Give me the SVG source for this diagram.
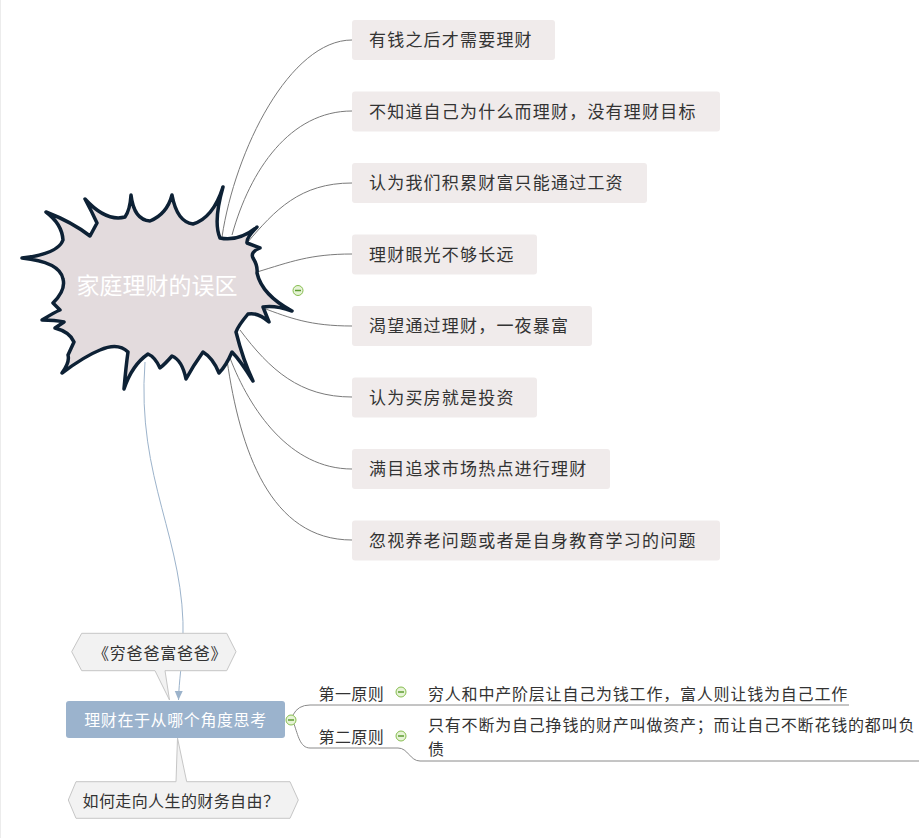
<svg xmlns="http://www.w3.org/2000/svg" width="919" height="838" viewBox="0 0 919 838">
<style>
text{font-family:"Noto Sans CJK SC","Noto Sans",sans-serif;font-size:16px;fill:#333}
.tp{fill:#f0ebeb}
.tt{font-size:17px;letter-spacing:1.2px}
.cn{fill:none;stroke:#7a7a7a;stroke-width:1}
.ul{fill:none;stroke:#8a8a8a;stroke-width:1}
.call{fill:#f2f2f2;stroke:#c6c6c6;stroke-width:1}
.ic circle{fill:#e6f3d6;stroke:#86bd4f;stroke-width:1}
.ic line{stroke:#5e9c32;stroke-width:1.5}
.bt{letter-spacing:0.8px}
</style>
<defs>
<marker id="arr" markerWidth="10" markerHeight="10" refX="9" refY="5" orient="auto" markerUnits="userSpaceOnUse">
<path d="M0,1 L9,5 L0,9 Z" fill="#9cb3cb"/>
</marker>
</defs>
<rect width="919" height="838" fill="#fff"/>
<line x1="0.5" y1="0" x2="0.5" y2="838" stroke="#ececec" stroke-width="1"/>

<g id="connectors">
<path class="cn" d="M222,237 C235,150 290,40 352,40"/>
<path class="cn" d="M232,235 C250,170 290,111 352,111"/>
<path class="cn" d="M247,243 C275,210 300,183 352,183"/>
<path class="cn" d="M257,272 C290,262 310,254 352,254"/>
<path class="cn" d="M263,308 C290,318 310,326 352,326"/>
<path class="cn" d="M240,330 C270,370 300,397 352,397"/>
<path class="cn" d="M230,358 C250,410 290,469 352,469"/>
<path class="cn" d="M227,360 C240,450 270,540 352,540"/>
<path d="M145,362 C136,480 186,540 183,640 C182,665 179,680 178.5,700" fill="none" stroke="#9cb3cb" stroke-width="1" marker-end="url(#arr)"/>
<path class="ul" d="M293,715 Q298,705 310,705 L849,705"/>
<path class="ul" d="M294,724 C298,735 300,748 310,748 L398,748 C408,748 410,761 420,761 L919,761"/>
</g>

<g id="central">
<path d="M22,258 Q58,254 63,240 Q62,224 46,212 Q72,222 90,236 L97,223 Q92,212 85,199 Q106,222 125,217 Q130,210 131,195 Q134,220 150,221 Q167,214 172,195 Q177,222 193,224 Q213,218 223,187 Q213,222 220,238 Q238,242 257,227 Q246,238 247,243 L260,248 Q250,252 253,258 Q258,266 257,273 Q262,295 292,311 Q275,305 263,307 L269,322 Q258,312 248,314 Q238,326 236,332 Q243,360 253,381 Q240,360 232,352 Q226,366 219,373 Q213,358 203,352 Q193,366 186,379 Q182,360 172,356 Q165,364 160,368 Q155,357 148,354 Q132,365 124,389 Q126,366 128,352 Q118,342 100,350 Q85,356 62,373 Q70,362 68,355 L74,342 Q70,332 55,328 L64,322 Q55,320 42,320 Q55,312 60,310 L53,303 Q66,290 63,279 Q60,262 22,258 Z" fill="#e3dbdd" stroke="#0d2135" stroke-width="3.5" stroke-linejoin="round"/>
<text x="157" y="293.5" text-anchor="middle" style="font-size:23px;fill:#fff">家庭理财的误区</text>
<g class="ic"><circle cx="298" cy="290.5" r="5"/><line x1="295" y1="290.5" x2="301" y2="290.5"/></g>
</g>

<g id="n1"><rect class="tp" x="352" y="20" width="203" height="40" rx="3"/><text class="tt" x="369" y="46">有钱之后才需要理财</text></g>
<g id="n2"><rect class="tp" x="352" y="91.5" width="368" height="40" rx="3"/><text class="tt" x="369" y="117.5">不知道自己为什么而理财，没有理财目标</text></g>
<g id="n3"><rect class="tp" x="352" y="163" width="295" height="40" rx="3"/><text class="tt" x="369" y="189">认为我们积累财富只能通过工资</text></g>
<g id="n4"><rect class="tp" x="352" y="234.5" width="185" height="40" rx="3"/><text class="tt" x="369" y="260.5">理财眼光不够长远</text></g>
<g id="n5"><rect class="tp" x="352" y="306" width="240" height="40" rx="3"/><text class="tt" x="369" y="332">渴望通过理财，一夜暴富</text></g>
<g id="n6"><rect class="tp" x="352" y="377.5" width="185" height="40" rx="3"/><text class="tt" x="369" y="403.5">认为买房就是投资</text></g>
<g id="n7"><rect class="tp" x="352" y="449" width="258" height="40" rx="3"/><text class="tt" x="369" y="475">满目追求市场热点进行理财</text></g>
<g id="n8"><rect class="tp" x="352" y="520.5" width="368" height="40" rx="3"/><text class="tt" x="369" y="546.5">忽视养老问题或者是自身教育学习的问题</text></g>

<g id="callout-top">
<path class="call" d="M71.7,651.7 L81.7,633.3 L226.7,633.3 L236,651.7 L226.7,670.7 L165,670.7 L169.5,700 L155,670.7 L81.7,670.7 Z"/>
<text class="bt" x="93" y="659">《穷爸爸富爸爸》</text>
</g>

<g id="main">
<rect x="66" y="701" width="219" height="37" rx="3" fill="#9bb3cd"/>
<text x="175.5" y="726" text-anchor="middle" style="fill:#fff;letter-spacing:0.6px">理财在于从哪个角度思考</text>
<g class="ic"><circle cx="291" cy="720" r="5"/><line x1="288" y1="720" x2="294" y2="720"/></g>
</g>

<g id="callout-bottom">
<path class="call" d="M68.3,800 L76,781.7 L176,781.7 L177.5,738 L186.7,781.7 L290,781.7 L298.3,800 L290,818.3 L76,818.3 Z"/>
<text x="82.5" y="806.5" style="letter-spacing:0.4px">如何走向人生的财务自由？</text>
</g>

<g id="p1">
<text x="318.5" y="699.5" style="letter-spacing:0.4px">第一原则</text>
<g class="ic"><circle cx="401" cy="692" r="5"/><line x1="398" y1="692" x2="404" y2="692"/></g>
</g>
<g id="p1c">
<text class="bt" x="428" y="699.5">穷人和中产阶层让自己为钱工作，富人则让钱为自己工作</text>
</g>
<g id="p2">
<text x="318.5" y="742.5" style="letter-spacing:0.4px">第二原则</text>
<g class="ic"><circle cx="401" cy="736" r="5"/><line x1="398" y1="736" x2="404" y2="736"/></g>
</g>
<g id="p2c">
<text class="bt" x="428" y="730.5">只有不断为自己挣钱的财产叫做资产；而让自己不断花钱的都叫负</text>
<text x="428" y="754.5">债</text>
</g>
</svg>
